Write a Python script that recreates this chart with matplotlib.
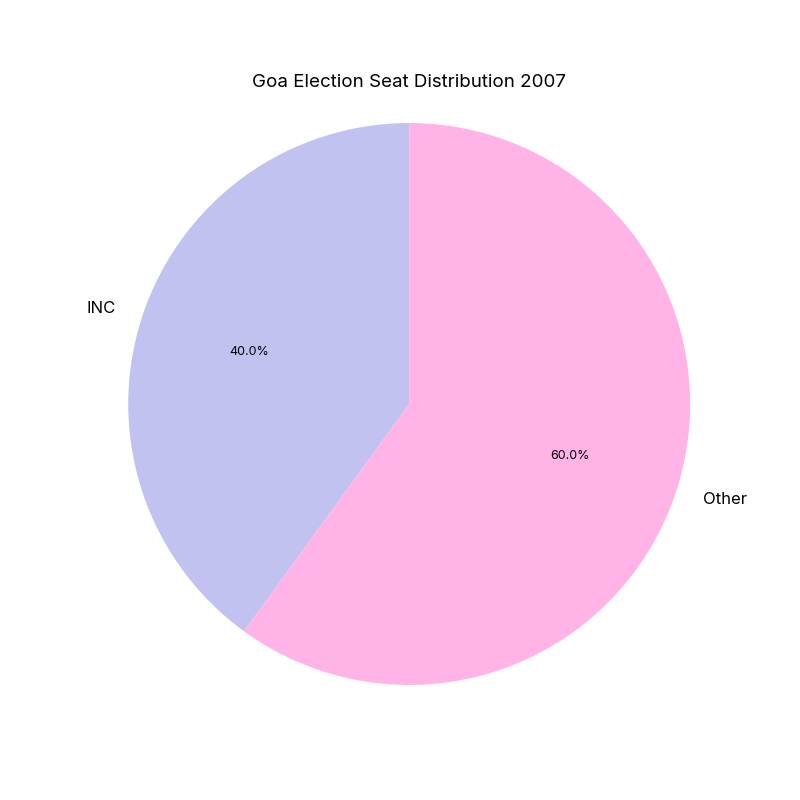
import matplotlib
matplotlib.use("Agg")
import matplotlib.pyplot as plt

plt.rcParams['font.family'] = ['Inter', 'DejaVu Sans']

# data
parties = ["INC", "Other"]
seat_share = [40.0, 60.0]
colors = ["#c2c2f0", "#ffb3e6"]

fig = plt.figure(figsize=(8, 8), dpi=100)
ax = fig.add_axes([0.0725, 0.056, 0.878, 0.878])
wedges, texts, autotexts = ax.pie(seat_share, labels=parties, colors=colors,
                                  autopct="%1.1f%%", startangle=90,
                                  textprops={"fontsize": 12})
for t in autotexts:
    t.set_fontsize(9)
ax.set_aspect("equal")
ax.set_title("Goa Election Seat Distribution 2007", fontsize=13.5, y=0.951, pad=0)

fig.savefig("out.png", dpi=100)
